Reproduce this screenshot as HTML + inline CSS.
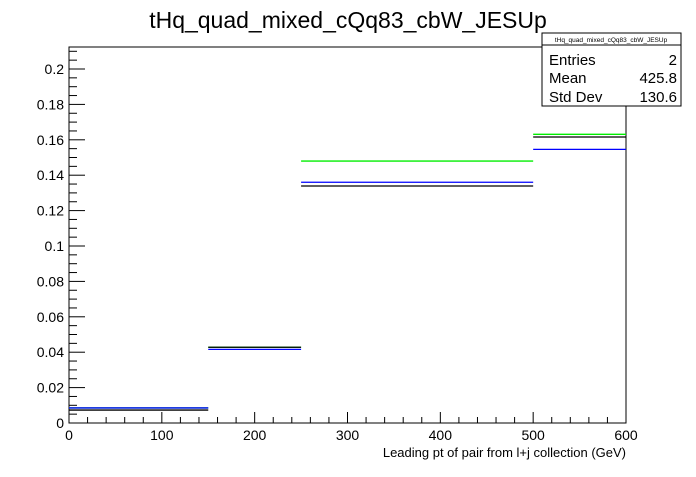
<!DOCTYPE html>
<html><head><meta charset="utf-8"><style>
body{margin:0;background:#fff;font-family:"Liberation Sans",sans-serif}
svg text{font-family:"Liberation Sans",sans-serif}
</style></head><body>
<svg width="696" height="472">
<rect width="696" height="472" fill="#fff"/>
<text x="348" y="28" font-size="23" text-anchor="middle">tHq_quad_mixed_cQq83_cbW_JESUp</text>
<rect x="69" y="47" width="557" height="376" fill="none" stroke="#000" stroke-width="1"/>
<g id="axes"></g>
<g id="series"></g>
<text x="626" y="457" font-size="13" text-anchor="end">Leading pt of pair from l+j collection (GeV)</text>
<g>
<rect x="542" y="33" width="139" height="73" fill="#fff" stroke="#000"/>
<line x1="542" y1="45" x2="681" y2="45" stroke="#000"/>
<text x="611" y="42" font-size="6.5" text-anchor="middle">tHq_quad_mixed_cQq83_cbW_JESUp</text>
<text x="549" y="65" font-size="15">Entries</text><text x="677" y="65" font-size="15" text-anchor="end">2</text>
<text x="549" y="83" font-size="15">Mean</text><text x="677" y="83" font-size="15" text-anchor="end">425.8</text>
<text x="549" y="102" font-size="15">Std Dev</text><text x="677" y="102" font-size="15" text-anchor="end">130.6</text>
</g>
</svg>
<script>
const binEdges=[0,150,250,500,600];
const greenVals=[0.0085,0.0428,0.148,0.1631];
const blueVals=[0.0085,0.0416,0.136,0.1546];
const blackVals=[0.0073,0.0428,0.1339,0.1616];
const yTicks=[0,0.02,0.04,0.06,0.08,0.1,0.12,0.14,0.16,0.18,0.2];
const yTickLabels=["0","0.02","0.04","0.06","0.08","0.1","0.12","0.14","0.16","0.18","0.2"];
const xTicks=[0,100,200,300,400,500,600];
const xTickLabels=["0","100","200","300","400","500","600"];
const NS="http://www.w3.org/2000/svg";
const X=v=>69+v*(557/600);
const Y=v=>423-v*1770;
const ax=document.getElementById('axes'),se=document.getElementById('series');
function mk(p,t,a){const e=document.createElementNS(NS,t);for(const k in a)e.setAttribute(k,a[k]);p.appendChild(e);return e;}
for(let v=0;v<=0.212;v+=0.005){const major=Math.abs(v/0.02-Math.round(v/0.02))<1e-6;
const l=mk(ax,'line',{x1:69,x2:69+(major?16:8),y1:Y(v),y2:Y(v),stroke:'#000'});

}
yTicks.forEach((v,i)=>{const t=mk(ax,'text',{x:64,y:Y(v)+5,'font-size':14,'text-anchor':'end'});t.textContent=yTickLabels[i];

});
for(let v=0;v<=600;v+=20){const major=v%100===0;
const l=mk(ax,'line',{x1:X(v),x2:X(v),y1:423,y2:423-(major?11:6),stroke:'#000'});

}
xTicks.forEach((v,i)=>{const t=mk(ax,'text',{x:X(v),y:440,'font-size':14,'text-anchor':'middle'});t.textContent=xTickLabels[i];

});
[[greenVals,'#0e0','green-hist'],[blueVals,'#00f','blue-hist'],[blackVals,'#000','black-hist']].forEach(([vals,c,n])=>{
vals.forEach((v,i)=>{const l=mk(se,'line',{x1:X(binEdges[i]),x2:X(binEdges[i+1]),y1:Y(v),y2:Y(v),stroke:c,'stroke-width':1.3});

});});
</script>
</body></html>
